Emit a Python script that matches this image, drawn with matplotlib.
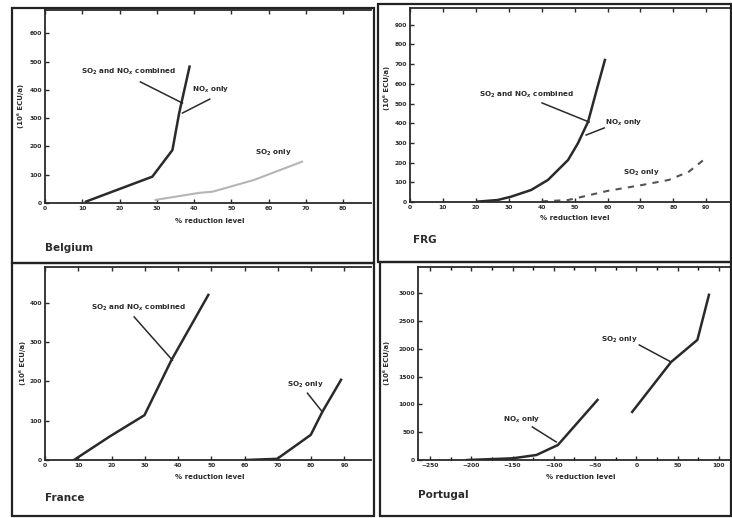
import matplotlib
matplotlib.use("Agg")
import matplotlib.pyplot as plt
from matplotlib.patches import Rectangle

W, H = 732, 518

# ---------------- data ----------------
# Belgium
bel_comb_x = [11, 28.8, 34.2, 36.0, 38.8]
bel_comb_y = [5, 93, 187, 317, 482]
bel_so2_x = [29.7, 41.5, 45, 56, 69]
bel_so2_y = [11, 36, 40, 81, 146]
bel_xticks = [0, 10, 20, 30, 40, 50, 60, 70, 80]
bel_yticks = [0, 100, 200, 300, 400, 500, 600]

# FRG
frg_comb_x = [20.5, 26.6, 30.7, 36.8, 41.9, 48, 51, 54.1, 56.7, 59.2]
frg_comb_y = [2, 10, 27, 61, 112, 213, 298, 408, 569, 721]
frg_so2_x = [40, 48, 60.2, 70.4, 78.6, 84.7, 89.8]
frg_so2_y = [3, 10, 57, 86, 112, 154, 222]
frg_xticks = [0, 10, 20, 30, 40, 50, 60, 70, 80, 90]
frg_yticks = [0, 100, 200, 300, 400, 500, 600, 700, 800, 900]

# France
fra_comb_x = [8.7, 19.3, 29.9, 38, 49.1]
fra_comb_y = [0, 59, 114, 254, 420]
fra_so2_x = [60.2, 69.8, 79.9, 83.4, 89]
fra_so2_y = [0, 3, 64, 123, 204]
fra_xticks = [0, 10, 20, 30, 40, 50, 60, 70, 80, 90]
fra_yticks = [0, 100, 200, 300, 400]

# Portugal
por_nox_x = [-205, -150, -121, -95, -47]
por_nox_y = [0, 30, 90, 270, 1080]
por_so2_x = [-5, 42, 74, 88]
por_so2_y = [865, 1760, 2160, 2970]
por_xticks = [-250, -200, -150, -100, -50, 0, 50, 100]
por_yticks = [0, 500, 1000, 1500, 2000, 2500, 3000]

ylab = "(10⁶ ECU/a)"
xlab = "% reduction level"
lab_comb = "SO$_2$ and NO$_x$ combined"
lab_nox = "NO$_x$ only"
lab_so2 = "SO$_2$ only"

fig = plt.figure(figsize=(W / 100, H / 100), dpi=100)
fig.patch.set_facecolor("white")
plt.rcParams["font.family"] = ["DejaVu Sans"]
plt.rcParams["font.weight"] = "bold"


def rect(l, t, r, b):
    return [l / W, 1 - b / H, (r - l) / W, (b - t) / H]


def fx(x):
    return x / W


def fy(y):
    return 1 - y / H


# outer frames
for (l, t, r, b) in [(12, 8, 374, 263), (378, 4, 731, 262), (12, 263, 374, 516), (380, 262, 731, 516)]:
    fig.patches.append(Rectangle((fx(l), fy(b)), (r - l) / W, (b - t) / H, transform=fig.transFigure,
                                 fill=False, lw=1.6, ec="#222222"))

LC = "#2a2a2a"


def setup(ax, xlim, ylim, xticks, yticks, xminor=None):
    ax.set_xlim(*xlim)
    ax.set_ylim(*ylim)
    ax.set_xticks(xticks)
    ax.set_yticks(yticks)
    if xminor is not None:
        ax.set_xticks(xminor, minor=True)
    ax.tick_params(direction="in", top=True, length=3, width=1, labelsize=4.3, pad=2, colors=LC)
    ax.tick_params(which="minor", direction="in", top=True, length=2, width=1)
    for lab in ax.get_xticklabels() + ax.get_yticklabels():
        lab.set_fontweight("bold")
    ax.spines["right"].set_visible(False)
    for s in ["left", "bottom", "top"]:
        ax.spines[s].set_linewidth(1.3)
        ax.spines[s].set_color(LC)
    ax.set_facecolor("none")


def note(ax, text, xytext, xy=None):
    if xy is None:
        ax.text(*xytext, text, fontsize=5.2, fontweight="bold", ha="center", va="center", color=LC)
    else:
        ax.annotate(text, xy=xy[1], xytext=xytext, textcoords="data", fontsize=5.2,
                    fontweight="bold", ha="center", va="center", color=LC)
        ax.plot([xy[0][0], xy[1][0]], [xy[0][1], xy[1][1]], color=LC, lw=1.1)


# ---------- Belgium ----------
ax = fig.add_axes(rect(45, 10, 371, 203))
setup(ax, (0, 87.5), (0, 682), bel_xticks, bel_yticks)
ax.plot(bel_comb_x, bel_comb_y, color=LC, lw=1.8)
ax.plot(bel_so2_x, bel_so2_y, color="#b5b5b5", lw=1.5)
note(ax, lab_comb, (22.4, 463), ((25.6, 428), (36.9, 353)))
note(ax, lab_nox, (44.5, 399), ((44.2, 367), (36.9, 318)))
note(ax, lab_so2, (61.2, 177))
fig.text(fx(210), fy(221), xlab, fontsize=5, fontweight="bold", ha="center", va="center", color=LC)
fig.text(fx(20), fy(106), ylab, fontsize=5, fontweight="bold", rotation=90, ha="center", va="center", color=LC)
fig.text(fx(45), fy(248), "Belgium", fontsize=7.5, fontweight="bold", ha="left", va="center", color=LC)

# ---------- FRG ----------
ax = fig.add_axes(rect(410, 8, 731, 202))
setup(ax, (0, 97.5), (0, 985), frg_xticks, frg_yticks)
ax.plot(frg_comb_x, frg_comb_y, color=LC, lw=1.8)
ax.plot(frg_so2_x, frg_so2_y, color="#555555", lw=1.5, ls=(0, (3, 3)))
note(ax, lab_comb, (35.3, 543), ((40.1, 503), (54.4, 406)))
note(ax, lab_nox, (65, 401), ((59, 376), (53.5, 340)))
note(ax, lab_so2, (70.2, 147))
fig.text(fx(575), fy(218), xlab, fontsize=5, fontweight="bold", ha="center", va="center", color=LC)
fig.text(fx(386), fy(88), ylab, fontsize=5, fontweight="bold", rotation=90, ha="center", va="center", color=LC)
fig.text(fx(413), fy(240), "FRG", fontsize=7.5, fontweight="bold", ha="left", va="center", color=LC)

# ---------- France ----------
ax = fig.add_axes(rect(45, 267, 371, 460))
setup(ax, (0, 98), (0, 491), fra_xticks, fra_yticks)
ax.plot(fra_comb_x, fra_comb_y, color=LC, lw=1.8)
ax.plot(fra_so2_x, fra_so2_y, color=LC, lw=1.8)
note(ax, lab_comb, (28, 387), ((26.8, 364), (38.3, 254)))
note(ax, lab_so2, (78.3, 191), ((78.9, 170), (83.4, 122)))
fig.text(fx(210), fy(477), xlab, fontsize=5, fontweight="bold", ha="center", va="center", color=LC)
fig.text(fx(22), fy(363), ylab, fontsize=5, fontweight="bold", rotation=90, ha="center", va="center", color=LC)
fig.text(fx(45), fy(498), "France", fontsize=7.5, fontweight="bold", ha="left", va="center", color=LC)

# ---------- Portugal ----------
ax = fig.add_axes(rect(418, 267, 731, 460))
setup(ax, (-264.5, 114.7), (0, 3470), por_xticks, por_yticks,
      xminor=[-225, -175, -125, -75, -25, 25, 75])
ax.plot(por_nox_x, por_nox_y, color=LC, lw=1.8)
ax.plot(por_so2_x, por_so2_y, color=LC, lw=1.8)
note(ax, lab_nox, (-139, 720), ((-126, 594), (-97, 324)))
note(ax, lab_so2, (-20.5, 2158), ((3.6, 2068), (42, 1763)))
fig.text(fx(581), fy(477), xlab, fontsize=5, fontweight="bold", ha="center", va="center", color=LC)
fig.text(fx(386), fy(363), ylab, fontsize=5, fontweight="bold", rotation=90, ha="center", va="center", color=LC)
fig.text(fx(418), fy(495), "Portugal", fontsize=7.5, fontweight="bold", ha="left", va="center", color=LC)

fig.savefig("out.png", dpi=100, facecolor="white")
